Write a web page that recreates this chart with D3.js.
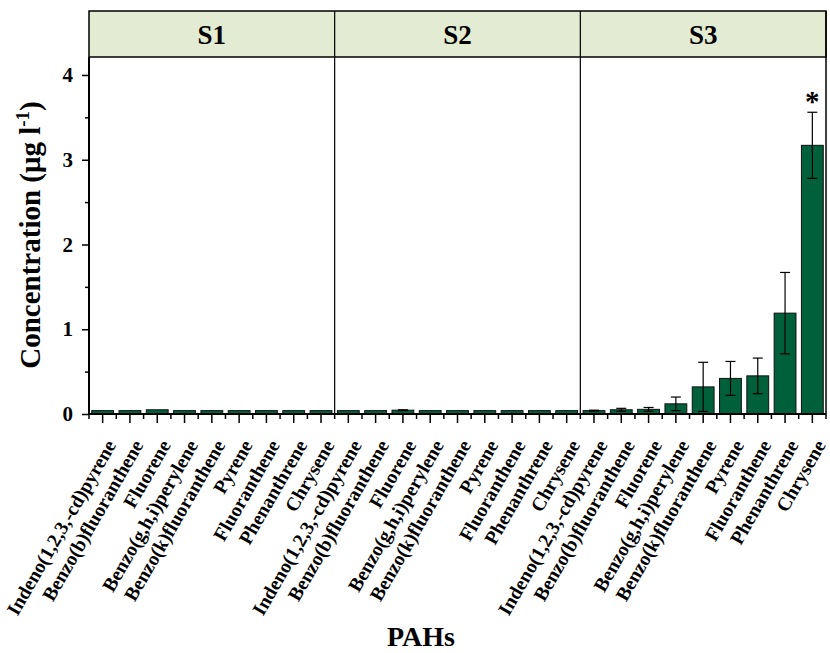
<!DOCTYPE html>
<html>
<head>
<meta charset="utf-8">
<script src="https://cdn.jsdelivr.net/npm/d3@7"></script>
<style>
  body { margin: 0; background: #fff; }
  svg text { font-family: "Liberation Serif", "Times New Roman", serif; font-weight: bold; }
</style>
</head>
<body>
<div id="chart"></div>
<script>
// PAH concentrations per site

const panels = ["S1", "S2", "S3"];
const compounds = [
    "Indeno(1,2,3,-cd)pyrene", "Benzo(b)fluoranthene", "Fluorene",
    "Benzo(g,h,i)perylene", "Benzo(k)fluoranthene", "Pyrene",
    "Fluoranthene", "Phenanthrene", "Chrysene"
];
const s1Values = [0.04, 0.04, 0.05, 0.04, 0.04, 0.04, 0.04, 0.04, 0.04];
const s1Errors = [0, 0, 0, 0, 0, 0, 0, 0, 0];
const s2Values = [0.04, 0.04, 0.045, 0.04, 0.04, 0.04, 0.04, 0.04, 0.04];
const s2Errors = [0, 0, 0.005, 0, 0, 0, 0, 0, 0];
const s3Values = [0.04, 0.05, 0.055, 0.12, 0.32, 0.42, 0.45, 1.19, 3.17];
const s3Errors = [0.005, 0.017, 0.022, 0.08, 0.29, 0.2, 0.21, 0.48, 0.39];
const yTicks = [0, 1, 2, 3, 4];
const yMinorTicks = [0.5, 1.5, 2.5, 3.5];
const starred = { panel: "S3", compound: "Chrysene" };

const seriesValues = [s1Values, s2Values, s3Values];
const seriesErrors = [s1Errors, s2Errors, s3Errors];

const rows = [];
panels.forEach((p, i) => {
    compounds.forEach((c, j) => {
        rows.push({ key: p + "|" + c, panel: p, compound: c, value: seriesValues[i][j], err: seriesErrors[i][j] });
    });
});

const width = 830, height = 653;
const left = 89, right = 826, headerTop = 11, plotTop = 57, baseline = 414;
const barColor = "#00603c";

const svg = d3.select("#chart").append("svg")
    .attr("width", width)
    .attr("height", height);

const x = d3.scaleBand()
    .domain(rows.map(d => d.key))
    .range([left, right])
    .paddingInner(0.2)
    .paddingOuter(0.1);

const y = d3.scaleLinear()
    .domain([0, 4.212])
    .range([baseline, plotTop]);

const step = x.step();
const panelX = d3.scaleBand().domain(panels).range([left, right]);

// header strip
svg.append("rect")
    .attr("x", left).attr("y", headerTop)
    .attr("width", right - left).attr("height", plotTop - headerTop)
    .attr("fill", "#e3ebd3")
    .attr("stroke", "#000").attr("stroke-width", 1.5);

svg.selectAll(".panel-label")
    .data(panels)
    .join("text")
    .attr("x", d => panelX(d) + panelX.bandwidth() / 2)
    .attr("y", 44)
    .attr("text-anchor", "middle")
    .style("font-size", "27px")
    .text(d => d);

// bars
svg.selectAll(".bar")
    .data(rows)
    .join("rect")
    .attr("x", d => x(d.key))
    .attr("y", d => y(d.value))
    .attr("width", x.bandwidth())
    .attr("height", d => y(0) - y(d.value))
    .attr("fill", barColor)
    .attr("stroke", "#111")
    .attr("stroke-width", 1);

// error bars
const withErr = rows.filter(d => d.err > 0);
const cap = 5;
const eb = svg.append("g").attr("stroke", "#000").attr("stroke-width", 1.2);
withErr.forEach(d => {
    const cx = x(d.key) + x.bandwidth() / 2;
    eb.append("line").attr("x1", cx).attr("x2", cx)
        .attr("y1", y(d.value - d.err)).attr("y2", y(d.value + d.err));
    [d.value - d.err, d.value + d.err].forEach(v => {
        eb.append("line").attr("x1", cx - cap).attr("x2", cx + cap)
            .attr("y1", y(v)).attr("y2", y(v));
    });
});

// significance star
const star = rows.find(d => d.panel === starred.panel && d.compound === starred.compound);
svg.append("text")
    .attr("x", x(star.key) + x.bandwidth() / 2)
    .attr("y", y(star.value + star.err) - 1)
    .attr("text-anchor", "middle")
    .style("font-size", "29px")
    .text("*");

// panel dividers and frame
panels.slice(1).forEach(p => {
    svg.append("line")
        .attr("x1", panelX(p)).attr("x2", panelX(p))
        .attr("y1", headerTop).attr("y2", baseline)
        .attr("stroke", "#000").attr("stroke-width", 1.2);
});
svg.append("line")
    .attr("x1", right).attr("x2", right)
    .attr("y1", headerTop).attr("y2", baseline)
    .attr("stroke", "#000").attr("stroke-width", 1.5);

// y axis
const yAxis = svg.append("g")
    .attr("transform", `translate(${left},0)`)
    .call(d3.axisLeft(y).tickValues(yTicks).tickSize(7).tickPadding(9).tickFormat(d3.format("d")));
yAxis.select(".domain").attr("stroke-width", 2).attr("d", `M0,${plotTop}V${baseline}`);
yAxis.selectAll(".tick line").attr("stroke-width", 1.5);
yAxis.selectAll("text").style("font-size", "21px").attr("fill", "#000");

const yMinor = svg.append("g")
    .attr("transform", `translate(${left},0)`)
    .call(d3.axisLeft(y).tickValues(yMinorTicks).tickSize(4).tickFormat(""));
yMinor.select(".domain").remove();
yMinor.selectAll(".tick line").attr("stroke-width", 1.5);

// x axis
const xAxis = svg.append("g")
    .attr("transform", `translate(0,${baseline})`)
    .call(d3.axisBottom(x).tickSize(9).tickFormat(d => d.split("|")[1]));
xAxis.select(".domain").attr("stroke-width", 2).attr("d", `M${left},0H${right}`);
xAxis.selectAll(".tick line").attr("stroke-width", 1.5);
xAxis.selectAll("text")
    .attr("x", 0).attr("y", 0).attr("dy", 0)
    .attr("transform", "translate(14,31) rotate(-60)")
    .attr("text-anchor", "end")
    .attr("fill", "#000")
    .style("font-size", "19.5px");

// minor ticks at band edges
const edges = rows.map(d => x(d.key) - step * 0.1).concat([right]);
svg.append("g").selectAll("line")
    .data(edges)
    .join("line")
    .attr("x1", d => d).attr("x2", d => d)
    .attr("y1", baseline).attr("y2", baseline + 5)
    .attr("stroke", "#000").attr("stroke-width", 1.5);

// axis titles
svg.append("text")
    .attr("transform", "translate(40,235) rotate(-90)")
    .attr("text-anchor", "middle")
    .style("font-size", "29px")
    .html('Concentration (μg l<tspan dy="-11" font-size="19px">-1</tspan><tspan dy="11">)</tspan>');

svg.append("text")
    .attr("x", 421)
    .attr("y", 646)
    .attr("text-anchor", "middle")
    .style("font-size", "28px")
    .text("PAHs");
</script>
</body>
</html>
